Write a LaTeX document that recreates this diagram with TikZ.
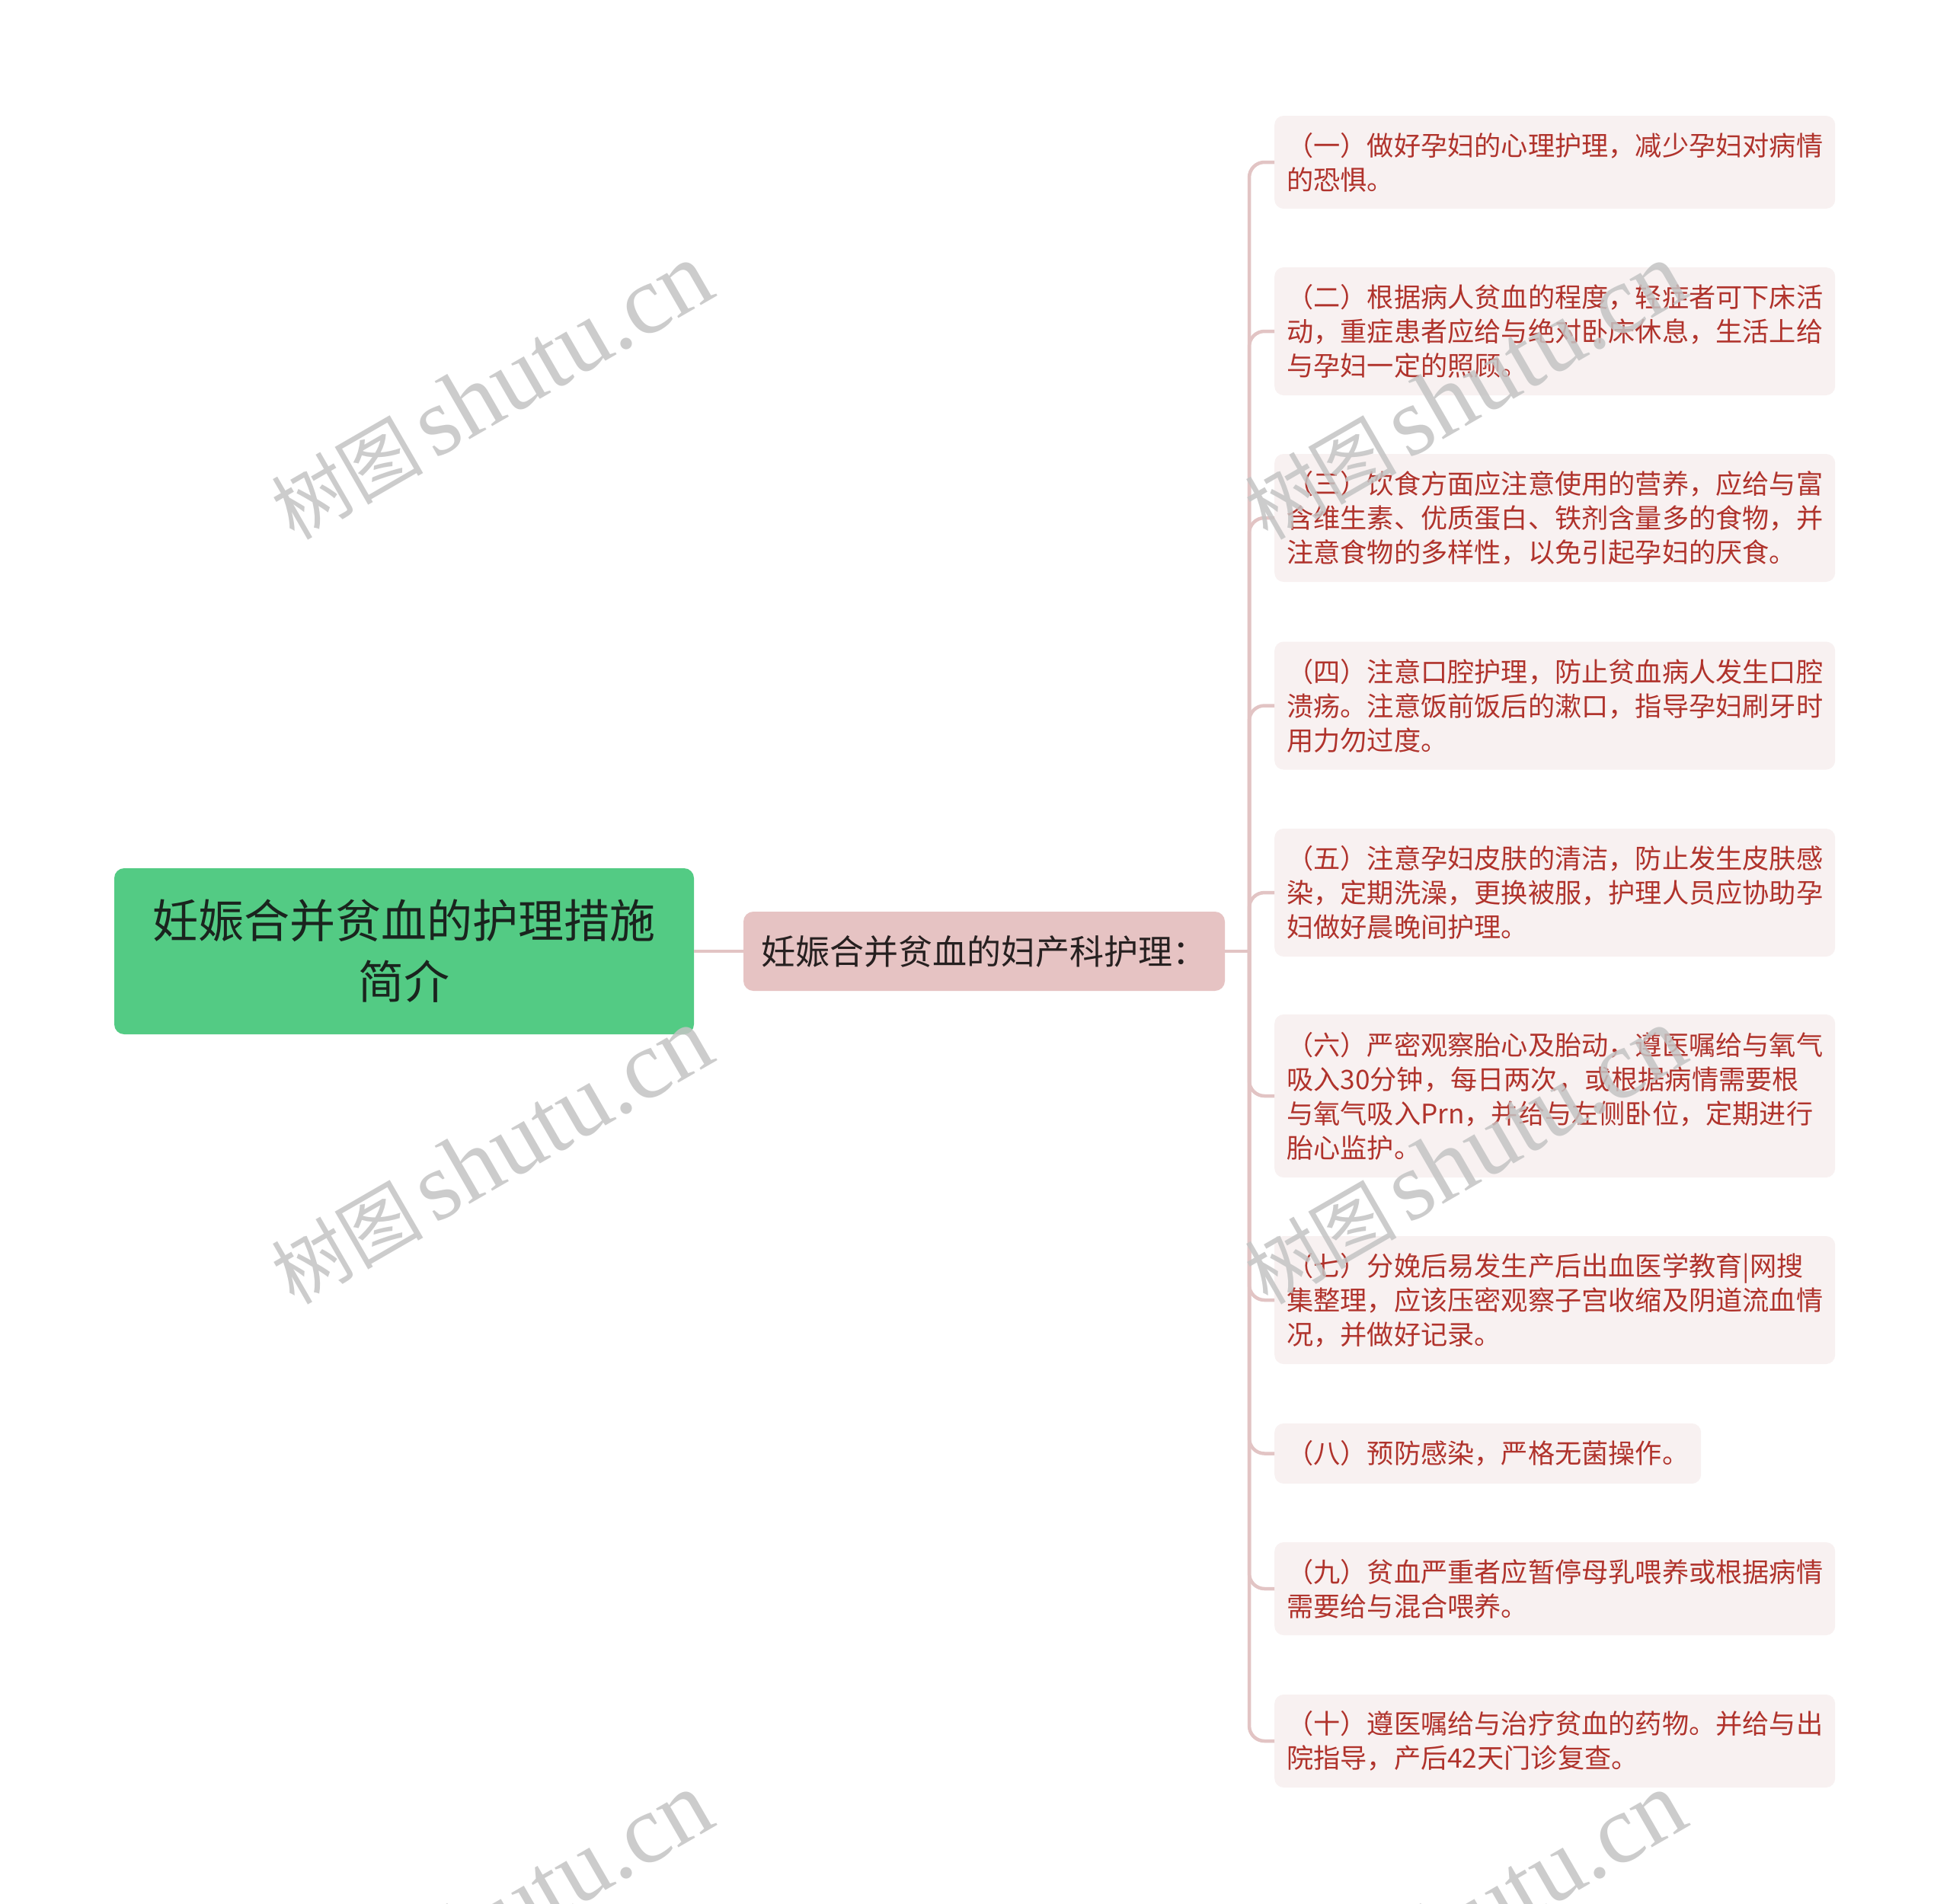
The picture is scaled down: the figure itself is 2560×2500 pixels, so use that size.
\documentclass[tikz,border=0pt]{standalone}
\usepackage{fontspec}
\newfontfamily\cjk{Noto Sans CJK SC}
\newfontfamily\wmlatin{Liberation Serif}
\definecolor{rootfill}{HTML}{53CB84}
\definecolor{roottext}{HTML}{1A241E}
\definecolor{lonefill}{HTML}{E6C3C3}
\definecolor{lonetext}{HTML}{262020}
\definecolor{leaffill}{HTML}{F8F1F1}
\definecolor{leaftext}{HTML}{B0332C}
\definecolor{linkc}{HTML}{E2C4C4}
\definecolor{wmc}{HTML}{C4C4C4}
\tikzset{
  rootbox/.style={rectangle, rounded corners=13pt, fill=rootfill, text=roottext,
    font=\cjk\fontsize{60}{80}\selectfont, align=center,
    minimum width=761pt, minimum height=218pt, inner sep=0pt},
  lonebox/.style={rectangle, rounded corners=13pt, fill=lonefill, text=lonetext,
    font=\cjk\fontsize{45}{55}\selectfont, align=center,
    minimum width=632pt, minimum height=104pt, inner sep=0pt},
  leaf/.style={rectangle, rounded corners=12pt, fill=leaffill, text=leaftext,
    font=\cjk\fontsize{35.2}{45}\selectfont, align=left, text width=704pt,
    inner xsep=16pt, inner ysep=0pt, anchor=west},
  link/.style={draw=linkc, line width=4.5pt},
  wmark/.style={text=wmc, text opacity=0.85, rotate=30,
    font=\wmlatin\fontsize{128}{128}\selectfont, inner sep=0pt}
}
\newcommand{\wmtext}{{\cjk\fontsize{100}{100}\selectfont 树图}\hspace{14pt}shutu.cn}
\begin{document}
\begin{tikzpicture}[x=1pt,y=-1pt]
\useasboundingbox (0,0) rectangle (2560,2500);
\clip (0,0) rectangle (2560,2500);
\fill[white] (0,0) rectangle (2560,2500);

\node[rootbox] (root) at (530.5,1249) {妊娠合并贫血的护理措施\\简介};
\node[lonebox] (l1) at (1292,1249) {妊娠合并贫血的妇产科护理：};

\node[leaf, minimum height=122pt] (c1) at (1673,213) {（一）做好孕妇的心理护理，减少孕妇对病情\\的恐惧。};
\node[leaf, minimum height=168pt] (c2) at (1673,435) {（二）根据病人贫血的程度，轻症者可下床活\\动，重症患者应给与绝对卧床休息，生活上给\\与孕妇一定的照顾。};
\node[leaf, minimum height=168pt] (c3) at (1673,680) {（三）饮食方面应注意使用的营养，应给与富\\含维生素、优质蛋白、铁剂含量多的食物，并\\注意食物的多样性，以免引起孕妇的厌食。};
\node[leaf, minimum height=168pt] (c4) at (1673,926.5) {（四）注意口腔护理，防止贫血病人发生口腔\\溃疡。注意饭前饭后的漱口，指导孕妇刷牙时\\用力勿过度。};
\node[leaf, minimum height=168pt] (c5) at (1673,1172) {（五）注意孕妇皮肤的清洁，防止发生皮肤感\\染，定期洗澡，更换被服，护理人员应协助孕\\妇做好晨晚间护理。};
\node[leaf, minimum height=214pt] (c6) at (1673,1439) {（六）严密观察胎心及胎动，遵医嘱给与氧气\\吸入30分钟，每日两次，或根据病情需要根\\与氧气吸入Prn，并给与左侧卧位，定期进行\\胎心监护。};
\node[leaf, minimum height=168pt] (c7) at (1673,1707) {（七）分娩后易发生产后出血医学教育|网搜\\集整理，应该压密观察子宫收缩及阴道流血情\\况，并做好记录。};
\node[leaf, minimum height=79pt, text width=528pt] (c8) at (1673,1908.5) {（八）预防感染，严格无菌操作。};
\node[leaf, minimum height=122pt] (c9) at (1673,2086) {（九）贫血严重者应暂停母乳喂养或根据病情\\需要给与混合喂养。};
\node[leaf, minimum height=122pt] (c10) at (1673,2286) {（十）遵医嘱给与治疗贫血的药物。并给与出\\院指导，产后42天门诊复查。};

\coordinate (j) at (1640,1249);
\draw[link] (root.east) -- (l1.west);
\draw[link] (l1.east) -- (j);
\foreach \c in {c1,c2,c3,c4,c5,c6,c7,c8,c9,c10}
  \draw[link, rounded corners=20pt] (j) |- (\c.west);

\node[wmark] (w1) at (645,514) {\wmtext};
\node[wmark] (w2) at (645,1518) {\wmtext};
\node[wmark] (w3) at (645,2522) {\wmtext};
\node[wmark] (w4) at (1923,514) {\wmtext};
\node[wmark] (w5) at (1923,1518) {\wmtext};
\node[wmark] (w6) at (1923,2522) {\wmtext};
\end{tikzpicture}
\end{document}
